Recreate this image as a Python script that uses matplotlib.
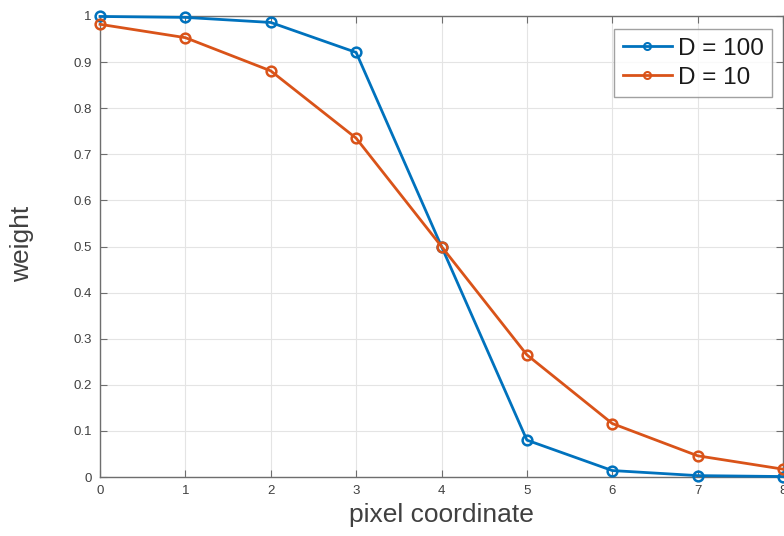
import matplotlib.pyplot as plt

plt.rcParams['font.family'] = ['Liberation Sans', 'DejaVu Sans']

# pixel offsets and edge weights for two smoothing strengths
x = [0, 1, 2, 3, 4, 5, 6, 7, 8]
w_d100 = [0.999, 0.997, 0.986, 0.921, 0.5, 0.080, 0.014, 0.003, 0.001]
w_d10 = [0.982, 0.953, 0.881, 0.735, 0.5, 0.265, 0.116, 0.046, 0.017]
labels = ['D = 100', 'D = 10']

blue = '#0072BD'
orange = '#D95319'
axis_col = '#6e6e6e'
text_col = '#404040'

fig = plt.figure(figsize=(7.84, 5.36), dpi=100)
ax = fig.add_axes([100 / 784, 59 / 536, 683 / 784, 461 / 536])

for y, c, lab in [(w_d100, blue, labels[0]), (w_d10, orange, labels[1])]:
    ax.plot(x, y, color=c, lw=2, marker='o', ms=7, mfc='none', mew=1.8,
            label=lab, clip_on=False, zorder=3)

ax.set_xlim(0, 8)
ax.set_ylim(0, 1)
ax.set_xticks(range(0, 9))
ax.set_yticks([i / 10 for i in range(11)])
ax.set_yticklabels(['0', '0.1', '0.2', '0.3', '0.4', '0.5', '0.6', '0.7', '0.8', '0.9', '1'])

ax.grid(True, color='#e4e4e4', lw=0.8)
ax.set_axisbelow(True)
for s in ax.spines.values():
    s.set_color(axis_col)
    s.set_linewidth(1.0)
ax.tick_params(direction='in', length=5, width=0.8, color=axis_col,
               labelcolor=text_col, labelsize=9.5, top=True, right=True, pad=6)

ax.set_xlabel('pixel coordinate', fontsize=19, color=text_col, labelpad=4)
ax.set_ylabel('weight', fontsize=19, color=text_col)
ax.yaxis.set_label_coords(-0.096, 0.505)

leg = ax.legend(loc='upper right', bbox_to_anchor=(672 / 683, 1 - 13 / 461),
                fontsize=17.5, frameon=True, fancybox=False, handlelength=2.0,
                handletextpad=0.25, borderpad=0.35, labelspacing=0.3,
                borderaxespad=0)
leg.get_frame().set_edgecolor('#8a8a8a')
leg.get_frame().set_linewidth(1.0)
for h in leg.legend_handles:
    h.set_markersize(5)
    h.set_markeredgewidth(1.5)
for t in leg.get_texts():
    t.set_color('#1a1a1a')

fig.savefig('out.png', dpi=100)
